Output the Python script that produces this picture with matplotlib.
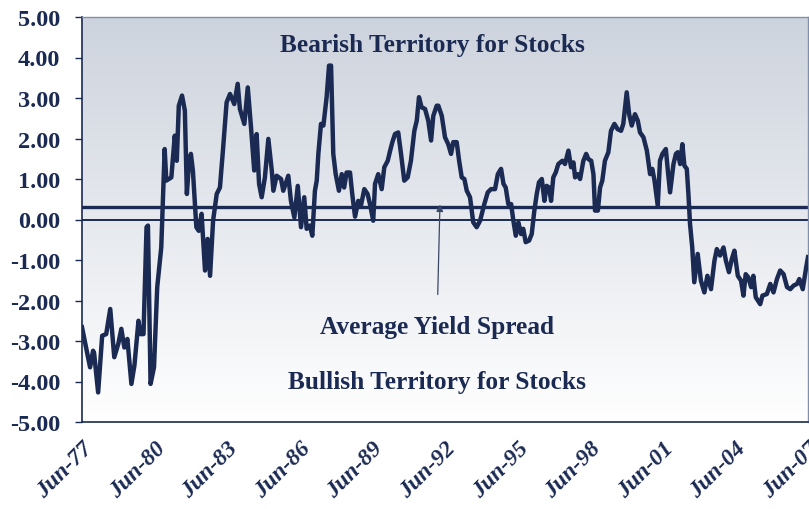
import numpy as np
import matplotlib
matplotlib.use("Agg")
import matplotlib.pyplot as plt
from matplotlib.colors import LinearSegmentedColormap

# months since Jun-77
months = [0, 2, 4, 5.5, 6, 8, 10, 12, 14, 16, 18, 19.5, 21, 22.5, 24.5, 26, 28, 29, 30.5,
          32, 32.7, 34, 35.7, 37.3, 39.3, 41, 41.8, 44.3, 46, 47, 48, 49.6, 51, 52, 53, 54, 55,
          56.7, 57.9, 59.3, 61, 62.3, 63.5, 65, 66.8, 68.4, 70, 71.7, 73.4, 75.5, 77.2, 78.3,
          80.5, 82.2, 83.8, 85.4, 86.6, 87.8, 89.1, 90.7, 92.4, 94.1, 94.9, 96.5, 98.7, 99.8,
          102.3, 103.6, 105.3, 107, 108.6, 110.2, 111.4, 113, 114.2, 115.5, 116.4, 117.2, 118.5,
          119.7, 121.3, 122.5, 123.5, 124.6, 125.8, 127.4, 128.8, 130, 131.2, 132.9, 134, 135.4,
          137, 138.3, 140, 141.6, 142.8, 144.4, 145.3, 146.9, 148.6, 149.9, 151.6, 152.8, 153.9,
          155.2, 156.8, 158.2, 159.8, 161.5, 163.1, 164.8, 166, 167.1, 168.4, 170.1, 171.7, 173.1,
          174.2, 175.9, 176.7, 178.4, 180, 181.6, 183, 184.1, 185.8, 187, 188.3, 189.6, 190.8,
          192.4, 194, 195.7, 197.4, 199.5, 201.2, 202.8, 204.8, 206.2, 207.8, 209, 210.1, 211.4,
          212.8, 213.9, 215.1, 216.4, 217.7, 218.8, 220, 221.7, 223, 224.3, 225.5, 226.6, 228,
          229.3, 230.4, 231.6, 232.6, 233.7, 234.9, 236.2, 238.2, 239.5, 241.2, 242.5, 243.7,
          244.5, 245.8, 247, 248.6, 250, 251.1, 252.5, 253.6, 254.4, 255.8, 256.9, 258, 259.3,
          261, 262.3, 264, 265.6, 267.3, 268.4, 270.1, 271.3, 272.6, 274.2, 275.6, 276.7, 278.4,
          280.1, 281.7, 282.8, 283.9, 285.5, 286.6, 287.8, 289.5, 290.5, 291.6, 293.3, 294.5,
          295.4, 296.6, 297.7, 298.7, 299.9, 300.7, 301.5, 302.6, 303.6, 305.3, 306.9, 308.6,
          310.1, 311.9, 313.6, 314.8, 316.4, 318.1, 319.3, 320.8, 322.2, 323.5, 325.2, 326.8,
          328, 329.1, 330.4, 331.8, 332.9, 334.1, 336.3, 337.4, 339.6, 341.3, 342.9, 344.6,
          346.2, 347.9, 349.6, 351.2, 352.9, 354.6, 355.7, 357.4, 359.1, 360]
spread = [-2.66, -3.16, -3.65, -3.24, -3.30, -4.27, -2.87, -2.83, -2.21, -3.40, -3.07, -2.70,
          -3.16, -2.95, -4.06, -3.60, -2.50, -2.83, -2.83, -0.19, -0.15, -4.06, -3.65, -1.67,
          -0.69, 1.74, 0.96, 1.04, 2.07, 1.45, 2.81, 3.06, 2.69, 0.63, 1.37, 1.62, 1.20, -0.19,
          -0.28, 0.14, -1.26, -0.48, -1.39, -0.03, 0.63, 0.79, 1.78, 2.89, 3.10, 2.85, 3.35,
          2.73, 2.36, 3.26, 2.28, 1.21, 2.11, 0.88, 0.55, 1.04, 1.99, 1.21, 0.71, 1.08, 1.00,
          0.71, 1.08, 0.46, 0.05, 0.83, -0.19, 0.55, -0.23, -0.15, -0.40, 0.71, 0.96, 1.62,
          2.36, 2.32, 3.02, 3.80, 3.80, 1.62, 1.12, 0.71, 1.12, 0.79, 1.16, 1.16, 0.63, 0.07,
          0.46, 0.34, 0.75, 0.63, 0.38, -0.03, 0.88, 1.12, 0.75, 1.29, 1.45, 1.70, 1.91, 2.11,
          2.15, 1.62, 0.96, 1.04, 1.45, 2.19, 2.44, 3.02, 2.77, 2.73, 2.44, 1.95, 2.56, 2.81,
          2.81, 2.56, 2.03, 1.86, 1.62, 1.91, 1.91, 1.45, 1.04, 1.00, 0.71, 0.55, -0.07, -0.19,
          -0.03, 0.38, 0.67, 0.75, 0.75, 1.12, 1.25, 0.88, 0.79, 0.38, 0.38, -0.03, -0.40,
          -0.07, -0.36, -0.23, -0.56, -0.52, -0.36, 0.22, 0.63, 0.92, 1.00, 0.46, 0.83, 0.79,
          0.46, 1.04, 1.16, 1.37, 1.45, 1.37, 1.70, 1.29, 1.41, 1.04, 1.12, 1.00, 1.45, 1.62,
          1.49, 1.45, 1.12, 0.22, 0.22, 0.79, 0.96, 1.45, 1.66, 2.19, 2.36, 2.23, 2.19, 2.36,
          3.14, 2.60, 2.32, 2.60, 2.44, 2.15, 2.03, 1.70, 1.12, 1.25, 0.96, 0.34, 1.45, 1.62,
          1.74, 1.21, 0.67, 1.37, 1.62, 1.66, 1.37, 1.86, 1.33, 1.25, 0.63, -0.11, -0.69, -1.55,
          -0.85, -1.51, -1.80, -1.39, -1.72, -1.02, -0.73, -0.89, -0.69, -1.02, -1.30, -0.98,
          -0.77, -1.39, -1.51, -1.88, -1.35, -1.43, -1.67, -1.39, -1.92, -2.09, -1.88, -1.84,
          -1.59, -1.80, -1.47, -1.26, -1.35, -1.67, -1.72, -1.63, -1.59, -1.47, -1.72, -1.18,
          -0.93]
average_spread = 0.32
tick_months = [0, 36, 72, 108, 144, 180, 216, 252, 288, 324, 360]
tick_labels = ["Jun-77", "Jun-80", "Jun-83", "Jun-86", "Jun-89", "Jun-92", "Jun-95",
               "Jun-98", "Jun-01", "Jun-04", "Jun-07"]
y_ticks = [5, 4, 3, 2, 1, 0, -1, -2, -3, -4, -5]

navy = "#1B2A52"
serif = ["Liberation Serif", "DejaVu Serif"]

fig = plt.figure(figsize=(8.09, 5.10), dpi=100)
ax = fig.add_axes([82/809, 1-423/510, (808-82)/809, (423-18)/510])

cmap = LinearSegmentedColormap.from_list("bg", ["#CDD3DD", "#FFFFFF"])
grad = np.linspace(0, 1, 256).reshape(-1, 1)
ax.imshow(grad, cmap=cmap, aspect="auto", extent=[0, 1, 0, 1], transform=ax.transAxes,
          zorder=0, interpolation="bicubic")

ax.axhline(0, color=navy, lw=1.4, zorder=2)
ax.axhline(average_spread, color=navy, lw=2.4, zorder=2)
ax.plot(months, spread, color=navy, lw=3.2, solid_joinstyle="round", zorder=3)

ax.set_xlim(0, 360)
ax.set_ylim(-5, 5)
ax.set_yticks(y_ticks)
ax.set_yticklabels([f"{v:.2f}" for v in y_ticks], fontfamily=serif, fontweight="bold",
                   fontsize=17.5, color=navy)
ax.set_xticks(tick_months)
ax.set_xticklabels(tick_labels, rotation=45, ha="right", rotation_mode="anchor",
                   fontfamily=serif, fontweight="bold", fontstyle="italic",
                   fontsize=17, color=navy)
ax.tick_params(axis="y", direction="out", length=5, width=1.0, color=navy, pad=10.5)
ax.tick_params(axis="x", length=0, pad=11)
for s in ["left", "bottom"]:
    ax.spines[s].set_color(navy)
    ax.spines[s].set_linewidth(1.2)
for s in ["top", "right"]:
    ax.spines[s].set_color("#8190AA")
    ax.spines[s].set_linewidth(1.0)

txt = dict(fontfamily=serif, fontweight="bold", fontsize=18.3, color=navy, ha="center",
           va="center")
ax.text(174, 4.33, "Bearish Territory for Stocks", **txt)
ax.text(176, -4.01, "Bullish Territory for Stocks", **txt)
ax.annotate("Average Yield Spread", xy=(177.5, average_spread + 0.05), xytext=(176, -2.65),
            textcoords="data", ha="center", va="center",
            fontfamily=serif, fontweight="bold", fontsize=18.3, color=navy,
            arrowprops=dict(arrowstyle="-|>", color="#3A4768", lw=0.9,
                            shrinkA=13, shrinkB=0, mutation_scale=10))

fig.savefig("out.png", dpi=100)
